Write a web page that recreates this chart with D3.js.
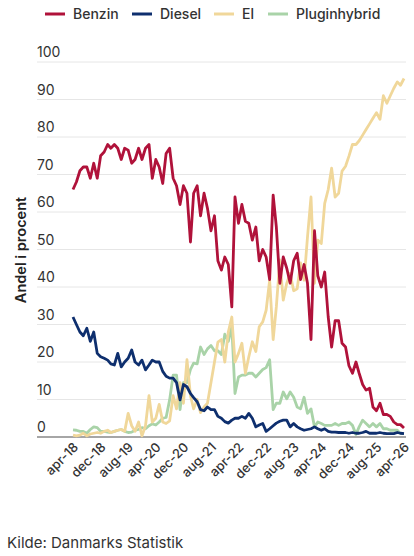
<!DOCTYPE html>
<html><head><meta charset="utf-8">
<script src="https://cdn.jsdelivr.net/npm/d3@7"></script>
<style>body{margin:0;background:#fff;font-family:Inter,"Open Sans",sans-serif;}</style>
</head><body><svg id="c" width="414" height="556"></svg>
<script>
const startYear = 2018, startMonth = 3; // apr-18
const benzin = [66,68,71,72,72,69,73,69,75,76,78,77,78,77,74,77,76.5,73,74,77,74,77,78,69,74,72,67.6,75.6,77,69,67,62,67,65,52,65,67,59,65,61,55,59,47,44.5,48,46,34.7,
64,57,62,57.5,57,52.5,56,47,50,48,42,64.5,56,41,48,45,41,47,49,42,46,41,26,55,43,40,44,32,24,31,31,25,24,19,17,20,17,14,12.5,13,8,7,9,6,6,5.5,4,3.3,3.3,2.4];
const diesel = [32,30,28,27,29,25.5,28,22.3,21.4,21,20.5,19.5,19.2,22.3,18.7,20,21,23.2,20,19.2,20.5,17.9,19.2,20.5,20,20,17.5,16.2,15.7,15.7,14.5,9.9,14,13.4,11.6,10.5,9.4,7.3,7,8,7.3,7.3,5.5,5,4.1,3.7,4.5,5,5,5.5,5,6.3,5,2.7,3.2,3.6,1.5,2.2,3,3.7,4.2,4.5,4.5,2.7,3.6,2.7,2.2,1.8,2,2.2,2.7,2.2,1.8,2.2,1.5,1.3,1.3,1.2,1.2,1.2,1,1.2,1,1,1.2,1.5,1,1,1,1.2,1,0.9,0.9,0.9,1.2,1,0.9];
const el = [0.5,0.3,0.5,1,0.3,0.8,1,1.2,1,1.5,1.8,1.2,1.5,1.8,2,1.5,6.3,3,1.5,4,0.3,3,11,4,5,8.7,4,3.6,4.3,11,7.5,14.5,9,20.6,11,7.5,10,6.5,8,9,14.5,20,25.3,26,20,28,
32,20,22.3,25,17,21.4,25.4,22.8,29.4,30.7,33.8,41.8,26,34.7,47.2,36.5,41,43.6,39,39.5,46.4,41.8,53.3,64,
41,52.5,51.6,62.3,66,71.7,64,65,70.9,72.2,74.9,78,78,79,80.5,82,83.5,85,86.5,84.7,91,89,91,93,94.7,93.8,95.6];
const plugin = [1.9,1.8,1.5,1.5,1,2,2.7,2.5,1.5,1.5,1.3,1.2,1.5,1.8,2,1.5,1.2,1.3,1.8,2,2.5,2.2,3,3.5,3.2,4,5,5.2,9.9,16.5,16.5,7.3,14.5,14.5,18,19.7,19.5,24,22,23.5,24.4,23,23,22,27.4,25.5,
29.4,11.6,16,16.5,16.5,17,17,16,17,18,18.5,20.6,7.3,9,9,12,10.2,12,10.6,8,7.5,10.6,6.3,7.5,2.7,
4,3.6,3.1,3.1,3.1,3.6,3.1,3.6,3.6,4,3.1,0.7,2.7,4.5,3.6,2.7,3.6,2.7,3.6,2.2,2.2,1.8,1.8,1.8,0.9,0.9];
const seriesNames = ["Benzin","Diesel","El","Pluginhybrid"];
const seriesColors = ["#b0123a","#0e2f6e","#f0d79a","#a9d3a8"];
const yTicks = [0,10,20,30,40,50,60,70,80,90,100];
const xTickLabels = ["apr-18","dec-18","aug-19","apr-20","dec-20","aug-21","apr-22","dec-22","aug-23","apr-24","dec-24","aug-25","apr-26"];

const dates = benzin.map((_,i)=>new Date(startYear, startMonth+i, 1));
const svg = d3.select("#c");
const x = d3.scaleTime().domain([dates[0], dates[dates.length-1]]).range([73,404]);
const y = d3.scaleLinear().domain([0,100]).range([437,62]);

const g = svg.append("g");
yTicks.forEach(t=>{
  g.append("line").attr("x1",37).attr("x2",406).attr("y1",y(t)).attr("y2",y(t))
   .attr("stroke", t===0?"#888":"#e6e6e6").attr("stroke-width", t===0?1.5:1);
  g.append("text").attr("x",37).attr("y",y(t)-5).text(t)
   .attr("font-size",14).attr("fill","#333");
});
svg.append("text").attr("transform","translate(26,250) rotate(-90)").attr("text-anchor","middle")
  .attr("font-size",14.5).attr("font-weight",600).attr("fill","#222").text("Andel i procent");

const tickDates = xTickLabels.map((_,k)=>dates[k*8]);
const xAxis = svg.append("g");
tickDates.forEach((d,k)=>{
  xAxis.append("text").attr("transform",`translate(${x(d)+6},${448}) rotate(-45)`)
   .attr("text-anchor","end").attr("font-size",13).attr("font-weight",500).attr("fill","#333")
   .text(xTickLabels[k]);
});

const line = d3.line().x((d,i)=>x(dates[i])).y(d=>y(d));
const all = [benzin,diesel,el,plugin];
[3,2,1,0].forEach(k=>{
  svg.append("path").datum(all[k]).attr("d",line).attr("fill","none")
    .attr("stroke",seriesColors[k]).attr("stroke-width",2.8).attr("stroke-linejoin","round");
});

const lx = [45,132,214,268];
seriesNames.forEach((n,k)=>{
  svg.append("line").attr("x1",lx[k]).attr("x2",lx[k]+20).attr("y1",14).attr("y2",14)
    .attr("stroke",seriesColors[k]).attr("stroke-width",3);
  svg.append("text").attr("x",lx[k]+28).attr("y",19).attr("font-size",14).attr("font-weight",500)
    .attr("fill","#333").text(n);
});
svg.append("text").attr("x",7).attr("y",548).attr("font-size",15).attr("fill","#333").text("Kilde: Danmarks Statistik");
</script></body></html>
